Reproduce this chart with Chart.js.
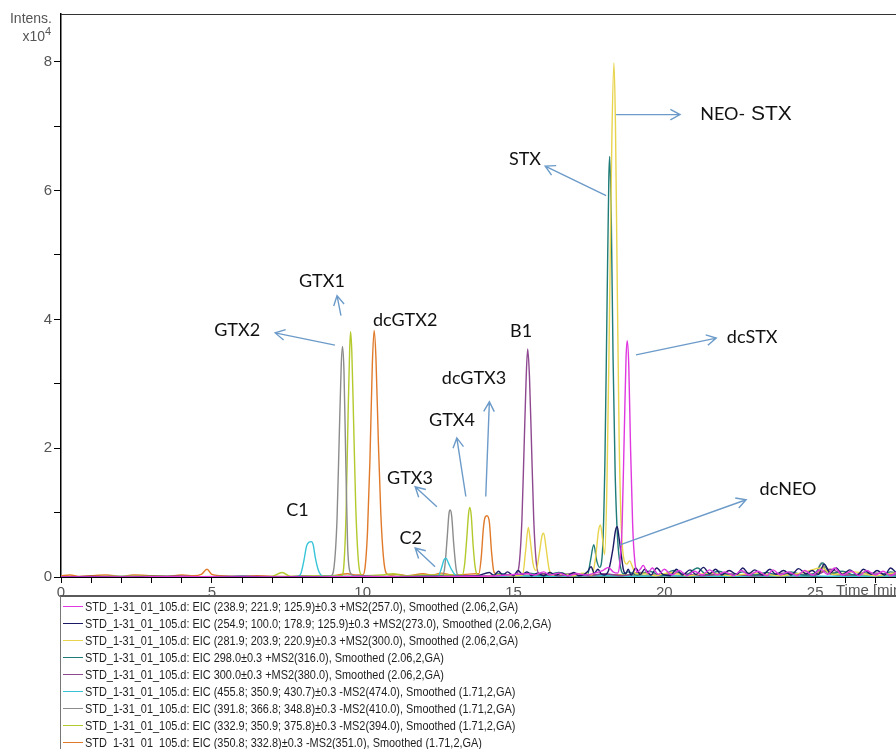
<!DOCTYPE html>
<html>
<head>
<meta charset="utf-8">
<script src="https://cdn.jsdelivr.net/npm/chart.js@4/dist/chart.umd.min.js"></script>
<style>
  html, body { margin: 0; padding: 0; background: #fff; width: 896px; height: 749px; overflow: hidden; }
  #plot { position: absolute; left: 0; top: 0; width: 896px; height: 597px; overflow: hidden; }
  #legend { position: absolute; left: 60px; top: 595px; width: 836px; height: 154px;
            border-top: 2px solid #5a5a5a; border-left: 1px solid #777; overflow: hidden;
            font: 12px "Liberation Sans", Arial, sans-serif; color: #1e1e1e; }
  .row { position: relative; height: 17px; line-height: 17px; white-space: nowrap; }
  .row i { position: absolute; display: block; left: 2px; top: 9px; width: 20px; height: 1px; }
  .row span { position: absolute; left: 24px; top: 2px; transform: scaleX(0.91); transform-origin: 0 50%; }
</style>
</head>
<body>
<div id="plot"><canvas id="c" width="975" height="597" style="width:975px;height:597px"></canvas></div>
<div id="legend"></div>
<script>
// Extracted ion chromatograms: [retention time (min), intensity (x10^4)]
const eic238 = [[0,0],[2,0],[4,0.01],[6,0],[8,0],[10,0.01],[12,0],[13,0.01],[14.5,0.02],[15.5,0.05],[15.7,0.03],[16.0,0.08],[16.2,0.03],[16.5,0.06],[16.8,0.02],[17.1,0.05],[17.4,0.03],[17.7,0.06],[17.95,0.1],[18.15,0.15],[18.3,0.08],[18.45,0.06],[18.52,0.2],[18.6,0.8],[18.67,2.2],[18.73,3.4],[18.77,3.67],[18.82,3.3],[18.88,2.0],[18.95,0.8],[19.02,0.25],[19.1,0.08],[19.2,0.12],[19.3,0.18],[19.45,0.06],[19.6,0.14],[19.8,0.04],[20.0,0.12],[20.25,0.03],[20.5,0.1],[20.75,0.02],[21.0,0.09],[21.25,0.03],[21.5,0.11],[21.75,0.03],[22.0,0.08],[22.3,0.02],[22.55,0.1],[22.8,0.03],[23.1,0.09],[23.4,0.02],[23.6,0.11],[23.85,0.03],[24.1,0.08],[24.4,0.02],[24.65,0.1],[24.9,0.03],[25.2,0.12],[25.4,0.04],[25.65,0.14],[25.9,0.03],[26.2,0.09],[26.45,0.02],[26.7,0.1],[27.0,0.03],[27.25,0.09],[27.5,0.02],[27.8,0.1],[28.1,0.03],[28.5,0.08],[29,0.02],[30,0.03]];
const eic254 = [[0,0],[1,0.01],[2,0],[3,0.01],[4,0.01],[5,0],[6,0.01],[7,0],[8,0.01],[9,0],[10,0.01],[11,0],[12,0.01],[13,0.01],[13.8,0.02],[14.2,0.07],[14.35,0.02],[14.5,0.09],[14.65,0.03],[14.8,0.08],[15.0,0.02],[15.15,0.1],[15.3,0.04],[15.45,0.08],[15.6,0.02],[15.8,0.06],[16.0,0.02],[16.2,0.07],[16.4,0.03],[16.6,0.06],[16.8,0.02],[17.0,0.07],[17.15,0.02],[17.3,0.03],[17.45,0.08],[17.57,0.16],[17.68,0.06],[17.8,0.12],[17.9,0.05],[18.0,0.03],[18.15,0.1],[18.3,0.45],[18.38,0.72],[18.44,0.78],[18.5,0.6],[18.57,0.35],[18.64,0.12],[18.72,0.05],[18.8,0.12],[18.9,0.03],[19.05,0.14],[19.2,0.04],[19.35,0.12],[19.55,0.03],[19.75,0.14],[19.95,0.04],[20.2,0.02],[20.4,0.12],[20.6,0.03],[20.85,0.11],[21.05,0.04],[21.3,0.15],[21.5,0.05],[21.7,0.12],[21.9,0.03],[22.15,0.1],[22.4,0.04],[22.6,0.14],[22.8,0.05],[23.0,0.11],[23.25,0.03],[23.5,0.12],[23.7,0.04],[23.95,0.1],[24.2,0.03],[24.45,0.13],[24.7,0.05],[24.9,0.1],[25.1,0.04],[25.3,0.2],[25.5,0.06],[25.7,0.14],[25.9,0.04],[26.15,0.11],[26.4,0.03],[26.6,0.12],[26.85,0.04],[27.05,0.1],[27.3,0.03],[27.5,0.14],[27.75,0.05],[28.0,0.1],[28.3,0.03],[28.6,0.09],[29.0,0.03],[29.5,0.07],[30,0.02]];
const eic281 = [[0,0],[3,0.01],[6,0],[9,0.01],[12,0],[14,0.01],[14.5,0.03],[15.0,0.02],[15.3,0.03],[15.4,0.4],[15.49,0.77],[15.56,0.55],[15.65,0.2],[15.75,0.1],[15.85,0.35],[15.95,0.65],[16.0,0.68],[16.08,0.45],[16.18,0.12],[16.3,0.03],[16.6,0.05],[17.0,0.02],[17.3,0.06],[17.6,0.03],[17.72,0.3],[17.82,0.72],[17.88,0.81],[17.95,0.6],[18.02,0.35],[18.1,1.5],[18.18,4.0],[18.26,6.8],[18.33,7.98],[18.38,7.0],[18.44,4.5],[18.5,2.2],[18.57,0.8],[18.65,0.3],[18.75,0.2],[18.85,0.25],[18.95,0.15],[19.05,0.05],[19.3,0.06],[19.7,0.02],[20.2,0.07],[20.8,0.02],[21.5,0.06],[22.2,0.02],[23.0,0.06],[23.8,0.02],[24.6,0.07],[25.2,0.14],[25.6,0.04],[26.3,0.08],[27.0,0.02],[27.8,0.07],[29,0.02],[30,0.02]];
const eic298 = [[0,0],[3,0.01],[6,0],[9,0.01],[12,0],[14,0.01],[14.6,0.05],[15.0,0.02],[15.5,0.06],[16.0,0.02],[16.5,0.07],[17.0,0.02],[17.3,0.05],[17.45,0.03],[17.55,0.25],[17.66,0.5],[17.76,0.25],[17.85,0.15],[17.95,0.4],[18.03,1.8],[18.1,4.2],[18.16,6.2],[18.19,6.53],[18.24,5.6],[18.3,3.4],[18.37,1.6],[18.45,0.6],[18.55,0.15],[18.65,0.05],[18.8,0.08],[19.1,0.03],[19.5,0.09],[19.9,0.02],[20.3,0.1],[20.7,0.03],[21.1,0.14],[21.4,0.04],[21.8,0.09],[22.2,0.02],[22.6,0.08],[23.0,0.03],[23.4,0.07],[23.8,0.02],[24.2,0.08],[24.6,0.03],[25.0,0.06],[25.25,0.22],[25.5,0.05],[25.9,0.09],[26.3,0.03],[26.7,0.08],[27.1,0.02],[27.5,0.08],[28,0.03],[29,0.05],[30,0.02]];
const eic300 = [[0,0],[3,0],[6,0.01],[9,0],[12,0.01],[14,0.01],[14.6,0.03],[15.0,0.02],[15.1,0.03],[15.2,0.25],[15.28,0.9],[15.35,2.0],[15.42,3.1],[15.47,3.54],[15.53,3.1],[15.6,2.0],[15.67,0.9],[15.75,0.25],[15.85,0.05],[16.1,0.05],[16.5,0.02],[17.0,0.06],[17.5,0.02],[18.0,0.05],[18.6,0.02],[19.2,0.07],[19.8,0.02],[20.5,0.06],[21.2,0.02],[22,0.05],[23,0.02],[24,0.06],[25,0.03],[25.5,0.12],[26,0.03],[27,0.06],[28,0.02],[30,0.02]];
const eic455 = [[0,0],[2,0.01],[4,0],[6,0.01],[7,0],[7.85,0.01],[7.95,0.05],[8.05,0.25],[8.14,0.48],[8.22,0.54],[8.3,0.55],[8.36,0.5],[8.43,0.3],[8.52,0.12],[8.6,0.04],[8.7,0.01],[10,0.01],[11,0],[12,0.01],[12.5,0.01],[12.6,0.12],[12.7,0.27],[12.76,0.29],[12.84,0.22],[12.94,0.12],[13.05,0.04],[13.2,0.01],[14,0.01],[15,0.02],[16,0.01],[17,0.02],[18,0.02],[19,0.01],[20,0.02],[22,0.01],[24,0.02],[26,0.01],[28,0.02],[30,0.01]];
const eic391 = [[0,0],[3,0],[6,0.01],[8,0],[8.95,0.02],[9.05,0.15],[9.15,0.9],[9.23,2.3],[9.29,3.3],[9.33,3.58],[9.38,3.2],[9.44,1.8],[9.5,0.5],[9.58,0.08],[9.7,0.02],[11,0.01],[12,0.01],[12.65,0.02],[12.72,0.15],[12.8,0.6],[12.86,0.98],[12.9,1.04],[12.95,0.95],[13.02,0.5],[13.1,0.12],[13.18,0.02],[14,0.02],[15,0.01],[16,0.02],[17,0.01],[18,0.02],[19,0.02],[20,0.01],[21,0.02],[22,0.01],[23,0.02],[24,0.01],[25,0.03],[25.2,0.22],[25.4,0.06],[26,0.02],[27,0.01],[28,0.02],[30,0.01]];
const eic332 = [[0,0],[3,0.01],[6,0],[7.0,0.01],[7.33,0.07],[7.6,0.01],[8.7,0.02],[9.0,0.02],[9.3,0.02],[9.38,0.2],[9.45,1.0],[9.52,2.6],[9.57,3.55],[9.6,3.81],[9.64,3.5],[9.7,2.4],[9.77,1.1],[9.85,0.3],[9.93,0.05],[10.05,0.02],[10.6,0.03],[11.0,0.05],[11.4,0.02],[12.0,0.03],[13.3,0.03],[13.38,0.2],[13.45,0.6],[13.51,0.98],[13.55,1.08],[13.6,0.95],[13.66,0.5],[13.73,0.15],[13.82,0.03],[14.2,0.02],[15,0.03],[16,0.02],[17,0.03],[18,0.02],[19,0.03],[20,0.02],[21,0.03],[22,0.02],[23,0.03],[24,0.02],[25,0.04],[25.3,0.16],[25.6,0.05],[26.5,0.02],[28,0.03],[30,0.02]];
const eic350 = [[0,0.02],[0.3,0.03],[0.6,0.01],[1,0.02],[1.5,0.03],[2,0.01],[2.4,0.03],[3,0.02],[3.5,0.01],[4,0.03],[4.4,0.02],[4.65,0.04],[4.84,0.12],[5.0,0.04],[5.3,0.02],[6,0.01],[6.5,0.02],[7,0.01],[8,0.01],[9,0.02],[9.5,0.05],[9.8,0.03],[10.0,0.03],[10.08,0.15],[10.16,0.7],[10.24,1.8],[10.32,3.3],[10.38,3.83],[10.44,3.4],[10.52,2.1],[10.6,1.0],[10.69,0.3],[10.78,0.06],[10.9,0.03],[11.2,0.04],[11.5,0.02],[12,0.05],[12.3,0.03],[12.6,0.06],[13,0.03],[13.4,0.04],[13.75,0.05],[13.85,0.05],[13.93,0.3],[14.0,0.75],[14.06,0.93],[14.12,0.95],[14.2,0.85],[14.27,0.4],[14.35,0.08],[14.5,0.03],[15,0.02],[16,0.03],[17,0.02],[18,0.04],[19,0.02],[20,0.03],[21,0.02],[22,0.04],[23,0.02],[24,0.03],[25,0.05],[25.4,0.1],[25.8,0.03],[27,0.02],[28,0.03],[30,0.02]];

const traceNames = [
  'STD_1-31_01_105.d: EIC (238.9; 221.9; 125.9)±0.3 +MS2(257.0), Smoothed (2.06,2,GA)',
  'STD_1-31_01_105.d: EIC (254.9; 100.0; 178.9; 125.9)±0.3 +MS2(273.0), Smoothed (2.06,2,GA)',
  'STD_1-31_01_105.d: EIC (281.9; 203.9; 220.9)±0.3 +MS2(300.0), Smoothed (2.06,2,GA)',
  'STD_1-31_01_105.d: EIC 298.0±0.3 +MS2(316.0), Smoothed (2.06,2,GA)',
  'STD_1-31_01_105.d: EIC 300.0±0.3 +MS2(380.0), Smoothed (2.06,2,GA)',
  'STD_1-31_01_105.d: EIC (455.8; 350.9; 430.7)±0.3 -MS2(474.0), Smoothed (1.71,2,GA)',
  'STD_1-31_01_105.d: EIC (391.8; 366.8; 348.8)±0.3 -MS2(410.0), Smoothed (1.71,2,GA)',
  'STD_1-31_01_105.d: EIC (332.9; 350.9; 375.8)±0.3 -MS2(394.0), Smoothed (1.71,2,GA)',
  'STD_1-31_01_105.d: EIC (350.8; 332.8)±0.3 -MS2(351.0), Smoothed (1.71,2,GA)'
];
const traces = [eic238, eic254, eic281, eic298, eic300, eic455, eic391, eic332, eic350];
const traceColors = ['#e038e0', '#1a1a66', '#e8d44c', '#1f7c78', '#8e4890', '#38c4d8', '#8c8c8c', '#b4c92c', '#e07a2a'];

// Peak callouts: label centre and arrow (tail -> head), all in (min, x10^4)
const callouts = [
  { text: 'GTX1',   at: [8.65, 4.60],  from: [9.28, 4.06],  to: [9.15, 4.37] },
  { text: 'GTX2',   at: [5.84, 3.84],  from: [9.08, 3.60],  to: [7.10, 3.79] },
  { text: 'dcGTX2', at: [11.41, 3.98] },
  { text: 'B1',     at: [15.25, 3.82] },
  { text: 'dcGTX3', at: [13.69, 3.09], from: [14.08, 1.25], to: [14.20, 2.72] },
  { text: 'GTX4',   at: [12.96, 2.44], from: [13.42, 1.25], to: [13.12, 2.16] },
  { text: 'GTX3',   at: [11.57, 1.54], from: [12.46, 1.09], to: [11.74, 1.40] },
  { text: 'C1',     at: [7.84, 1.03] },
  { text: 'C2',     at: [11.59, 0.61], from: [12.40, 0.16], to: [11.74, 0.45] },
  { text: 'STX',    at: [15.38, 6.48], from: [18.07, 5.92], to: [16.05, 6.38] },
  { text: 'dcSTX',  at: [22.91, 3.73], from: [19.06, 3.45], to: [21.72, 3.71] },
  { text: 'dcNEO',  at: [24.10, 1.37], from: [18.53, 0.50], to: [22.71, 1.20] },
  { text: 'NEO-', suffix: ' STX', at: [21.19, 7.18], from: [18.40, 7.18], to: [20.52, 7.18], left: true }
];

const calloutPlugin = {
  id: 'callouts',
  afterDraw(chart) {
    const { ctx, chartArea: a, scales: { x, y } } = chart;
    ctx.save();
    // frame line along the top of the plot
    ctx.strokeStyle = '#333';
    ctx.lineWidth = 1;
    ctx.beginPath();
    ctx.moveTo(a.left, a.top + 0.5);
    ctx.lineTo(a.right, a.top + 0.5);
    ctx.stroke();

    // intensity axis caption
    ctx.fillStyle = '#555';
    ctx.textBaseline = 'alphabetic';
    ctx.textAlign = 'right';
    ctx.font = '14px "Liberation Sans", Arial, sans-serif';
    ctx.fillText('Intens.', 52, 23);
    ctx.fillText('x10', 45, 41);
    ctx.font = '11px "Liberation Sans", Arial, sans-serif';
    ctx.textAlign = 'left';
    ctx.fillText('4', 45, 35);

    // time axis caption
    ctx.font = '15px "Liberation Sans", Arial, sans-serif';
    ctx.textBaseline = 'top';
    ctx.fillText('Time [min]', 836, 583);

    // arrows
    ctx.strokeStyle = '#6c9bc9';
    ctx.lineWidth = 1.4;
    for (const c of callouts) {
      if (!c.from) continue;
      const x0 = x.getPixelForValue(c.from[0]), y0 = y.getPixelForValue(c.from[1]);
      const x1 = x.getPixelForValue(c.to[0]),   y1 = y.getPixelForValue(c.to[1]);
      const ang = Math.atan2(y1 - y0, x1 - x0);
      const h = 11, spread = 0.5;
      ctx.beginPath();
      ctx.moveTo(x0, y0); ctx.lineTo(x1, y1);
      ctx.moveTo(x1 - h * Math.cos(ang - spread), y1 - h * Math.sin(ang - spread));
      ctx.lineTo(x1, y1);
      ctx.lineTo(x1 - h * Math.cos(ang + spread), y1 - h * Math.sin(ang + spread));
      ctx.stroke();
    }

    // labels
    ctx.fillStyle = '#111';
    ctx.textBaseline = 'middle';
    for (const c of callouts) {
      const px = x.getPixelForValue(c.at[0]), py = y.getPixelForValue(c.at[1]);
      ctx.font = '18px Lato, "Noto Sans", sans-serif';
      if (c.left) {
        ctx.textAlign = 'left';
        ctx.fillText(c.text, px, py);
        const w = ctx.measureText(c.text).width;
        ctx.font = '21px "Liberation Sans", Arial, sans-serif';
        ctx.fillText(c.suffix, px + w, py);
      } else {
        ctx.textAlign = 'center';
        ctx.fillText(c.text, px, py);
      }
    }
    ctx.restore();
  }
};

const tickFont = { family: '"Liberation Sans", Arial, sans-serif', size: 15 };

new Chart(document.getElementById('c'), {
  type: 'line',
  data: {
    datasets: traces.map((tr, i) => ({
      label: traceNames[i],
      data: tr.map(p => ({ x: p[0], y: p[1] })),
      borderColor: traceColors[i],
      borderWidth: 1.4,
      pointRadius: 0,
      fill: false,
      cubicInterpolationMode: 'monotone'
    }))
  },
  options: {
    responsive: false,
    animation: false,
    devicePixelRatio: 1,
    layout: { padding: { left: 0, right: 12, top: 14, bottom: 0 } },
    plugins: { legend: { display: false }, tooltip: { enabled: false } },
    scales: {
      x: {
        type: 'linear', min: 0, max: 29.9,
        afterFit(s) { s.height = 20; },
        ticks: {
          stepSize: 1, autoSkip: false, includeBounds: false, maxRotation: 0, padding: 1,
          color: '#555', font: tickFont,
          callback: v => (Math.round(v) % 5 === 0 ? String(Math.round(v)) : '')
        },
        grid: { drawOnChartArea: false, drawTicks: true, tickLength: 6, tickColor: '#000' },
        border: { color: '#000', width: 2 }
      },
      y: {
        min: 0, max: 8.742,
        afterFit(s) { s.width = 61; },
        ticks: {
          stepSize: 1, includeBounds: false, padding: 2,
          color: '#555', font: tickFont,
          callback: v => (Math.round(v) % 2 === 0 ? String(Math.round(v)) : '')
        },
        grid: { drawOnChartArea: false, drawTicks: true, tickLength: 7, tickColor: '#000' },
        border: { color: '#000', width: 1.5 }
      }
    }
  },
  plugins: [calloutPlugin]
});

// legend listing every trace
const legend = document.getElementById('legend');
traceNames.forEach((name, i) => {
  const row = document.createElement('div');
  row.className = 'row';
  const sw = document.createElement('i');
  sw.style.background = traceColors[i];
  const tx = document.createElement('span');
  tx.textContent = name;
  row.appendChild(sw); row.appendChild(tx);
  legend.appendChild(row);
});
</script>
</body>
</html>
